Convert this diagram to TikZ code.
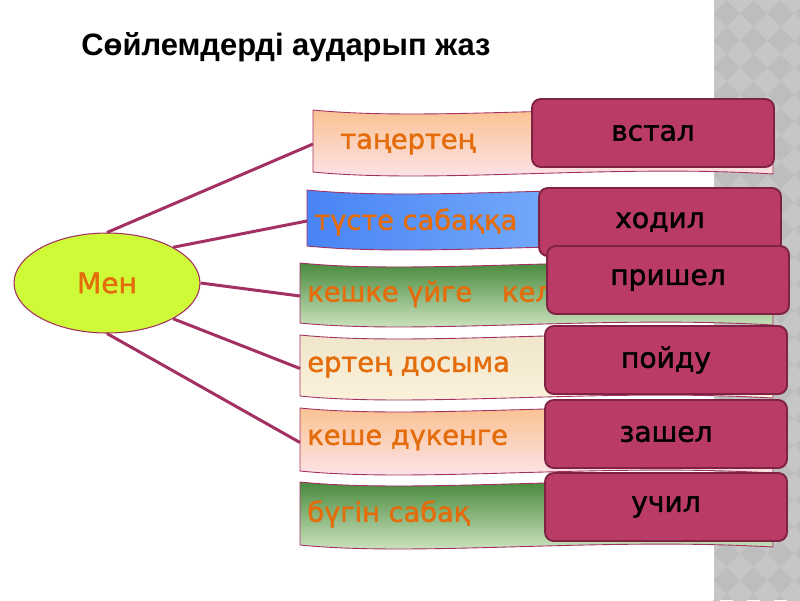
\documentclass[tikz,border=0pt]{standalone}
\usepackage{fontspec}
\setmainfont{DejaVu Sans}
\newfontfamily\titlefont{Liberation Sans}
\newfontfamily\heavyfont{DejaVu Sans}[FakeBold=1.6]
\usepackage{tikz}
\usetikzlibrary{shapes.geometric, positioning, calc}
\definecolor{mymag}{RGB}{163,48,98}
\definecolor{myorange}{RGB}{228,108,10}
\definecolor{mylime}{RGB}{206,250,56}
\definecolor{myberry}{RGB}{186,60,102}
\definecolor{myberrydark}{RGB}{128,34,68}
\definecolor{mystripe}{RGB}{189,189,189}
\definecolor{mystripelt}{RGB}{198,198,198}
\definecolor{peachtop}{RGB}{250,190,136}
\definecolor{peachmid}{RGB}{248,160,98}
\definecolor{peachbot}{RGB}{252,230,240}
\definecolor{bluel}{RGB}{72,132,245}
\definecolor{bluer}{RGB}{156,204,255}
\definecolor{greentop}{RGB}{58,128,46}
\definecolor{greenbot}{RGB}{218,236,204}
\definecolor{creamtop}{RGB}{238,228,200}
\definecolor{creambot}{RGB}{253,243,222}
\tikzset{
  subject/.style={ellipse, draw=mymag, fill=mylime, line width=0.6pt,
    minimum width=3.72cm, minimum height=2cm, inner sep=0pt,
    text=myorange, font=\heavyfont\fontsize{16}{19}\selectfont},
  answer/.style={rectangle, draw=myberrydark, fill=myberry,
    minimum width=4.84cm, minimum height=1.36cm, rounded corners=5pt,
    line width=1.1pt, font=\heavyfont\fontsize{16}{19}\selectfont},
  bandtext/.style={anchor=west, inner sep=0pt, text=myorange,
    font=\heavyfont\fontsize{15.5}{19}\selectfont},
  link/.style={draw=mymag, line width=1.7pt},
  peachband/.style={top color=peachtop, middle color=peachmid, bottom color=peachbot},
  blueband/.style={left color=bluel, right color=bluer},
  greenband/.style={top color=greentop, bottom color=greenbot},
  creamband/.style={top color=creamtop, bottom color=creambot}
}
\begin{document}
\begin{tikzpicture}[x=0.02cm, y=-0.02cm]
  \useasboundingbox (0,0) rectangle (800,600);

  % Grey side stripe
  \fill[mystripe] (713,0) rectangle (800,600);
  \begin{scope}
    \clip (713,0) rectangle (800,600);
    \foreach \i in {0,...,4}
      \foreach \j in {0,...,23}
        \fill[mystripelt] (713+27*\i,27*\j) +(-13.5,0) -- +(0,-13.5) -- +(13.5,0) -- +(0,13.5) -- cycle;
  \end{scope}
  \draw[white, line width=1pt] (713,0) -- (713,600);

  % Title
  \node[anchor=west, inner sep=0pt, font=\titlefont\bfseries\fontsize{17.6}{20}\selectfont]
    (title) at (81,47) {Сөйлемдерді аударып жаз};

  % Wavy bands
  \foreach \nm/\xa/\ya/\yb/\shd in {b1/313/110/178/peachband, b2/307/190/252/blueband,
      b3/300/263/329/greenband, b4/300/335/402/creamband,
      b5/300/408/477/peachband, b6/300/482/551/greenband} {
    \shade[\shd, draw=mymag, line width=0.5pt]
      (\xa,\ya) .. controls (\xa+120,\ya+12) and (\xa+300,\ya-8) .. (773,\ya+2)
      -- (773,\yb-4) .. controls (\xa+300,\yb-14) and (\xa+120,\yb+6) .. (\xa,\yb-6)
      -- cycle;
    \coordinate (\nm) at (\xa,{(\ya+\yb)/2});
  }

  \node[bandtext] (t1) at (340,144) {таңертең};
  \node[bandtext] (t2) at (314,222) {түсте сабаққа};
  \node[bandtext] (t3) at (307,294) {кешке үйге\hspace{1.1em}кел};
  \node[bandtext] (t4) at (307,367) {ертең досыма};
  \node[bandtext] (t5) at (307,440) {кеше дүкенге};
  \node[bandtext] (t6) at (307,514) {бүгін сабақ};

  % Central ellipse and its links
  \node[subject] (men) at (107,283) {Мен};
  \draw[link] (men.north) -- (b1);
  \draw[link] (men.north east) -- (b2);
  \draw[link] (men.east) -- (b3);
  \draw[link] (men.south east) -- (b4);
  \draw[link] (men.south) -- (b5);

  % Translations
  \node[answer] (a1) at (653,133) {встал};
  \node[answer] (a2) at (660,222) {ходил};
  \node[answer] (a3) at (668,280) {пришел};
  \node[answer] (a4) at (666,360) {пойду};
  \node[answer] (a5) at (666,434) {зашел};
  \node[answer] (a6) at (666,507) {учил};
\end{tikzpicture}
\end{document}
